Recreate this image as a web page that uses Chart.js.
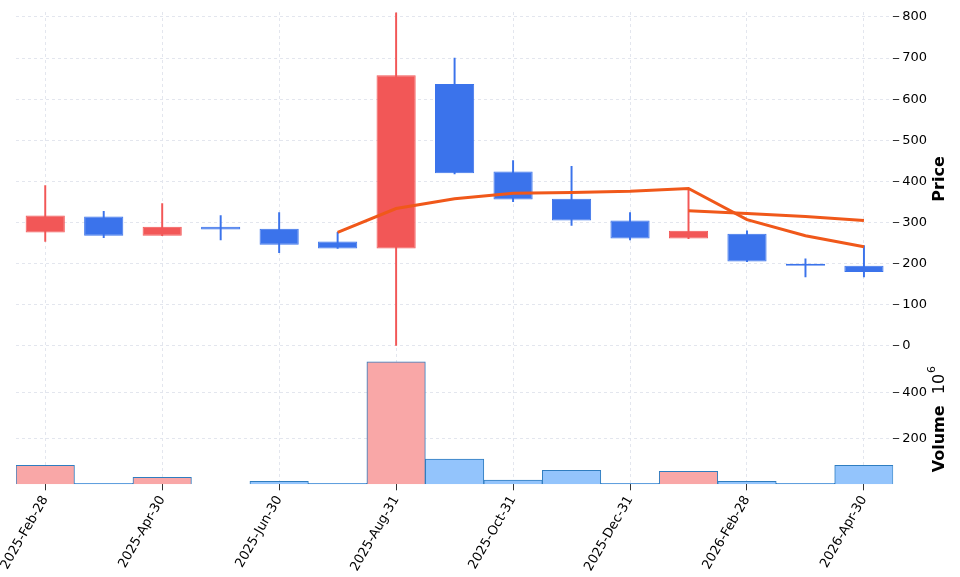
<!DOCTYPE html>
<html>
<head>
<meta charset="utf-8">
<script src="https://cdn.jsdelivr.net/npm/chart.js@4"></script>
<style>
  html, body { margin: 0; padding: 0; background: #fff; }
  #wrap { width: 960px; height: 577px; }
</style>
</head>
<body>
<div id="wrap"><canvas id="c"></canvas></div>
<script>
// --- data ---
const labels = ['2025-Feb-28', '2025-Mar-31', '2025-Apr-30', '2025-May-31', '2025-Jun-30',
  '2025-Jul-31', '2025-Aug-31', '2025-Sep-30', '2025-Oct-31', '2025-Nov-30',
  '2025-Dec-31', '2026-Jan-31', '2026-Feb-28', '2026-Mar-31', '2026-Apr-30'];
const opens  = [317, 268, 290, 283, 246, 237, 658, 420, 356, 305, 261, 280, 205, 195, 180];
const closes = [276, 315, 268, 290, 285, 254, 237, 637, 424, 358, 305, 261, 273, 196, 195];
const highs  = [390, 327, 346, 317, 324, 276, 810, 700, 451, 437, 324, 383, 280, 212, 244];
const lows   = [254, 263, 268, 258, 227, 237, 0, 418, 351, 293, 258, 261, 205, 168, 168];
const volumes = [83, 4, 30, 0, 13, 4, 535, 110, 18, 61, 4, 57, 13, 4, 83];
const maShort = [null, null, null, null, null, 276, 334, 358, 371, 373, 376, 383, 307, 268, 241];
const maLong  = [null, null, null, null, null, null, null, null, null, null, null, 329, 322, 315, 305];
const priceTicks = [0, 100, 200, 300, 400, 500, 600, 700, 800];
const volumeTicks = [200, 400];

const UP = '#3b73eb', DOWN = '#f25757';
const isUp = opens.map((o, i) => closes[i] >= o);

// axis titles read bottom-to-top, like matplotlib
const sideTitles = {
  id: 'sideTitles',
  afterDraw(chart) {
    const c = chart.ctx;
    const py = chart.scales.y, vy = chart.scales.yv;
    c.save();
    c.fillStyle = '#000';
    c.textAlign = 'center';
    c.textBaseline = 'middle';
    c.font = 'bold 16px "DejaVu Sans"';
    c.translate(940, (py.top + py.bottom) / 2);
    c.rotate(-Math.PI / 2);
    c.fillText('Price', 0, 0);
    c.restore();
    c.save();
    c.fillStyle = '#000';
    c.textBaseline = 'middle';
    c.translate(940, vy.bottom - 12);
    c.rotate(-Math.PI / 2);
    c.font = 'bold 16px "DejaVu Sans"';
    c.textAlign = 'left';
    c.fillText('Volume', 0, 0);
    const w = c.measureText('Volume  ').width;
    c.font = '16px "DejaVu Sans"';
    c.fillText('10', w, 0);
    const w2 = c.measureText('10').width;
    c.font = '11px "DejaVu Sans"';
    c.fillText('6', w + w2 + 1, -8);
    c.restore();
  },
};

const ctx = document.getElementById('c').getContext('2d');
new Chart(ctx, {
  data: {
    labels: labels,
    datasets: [
      {
        type: 'line', data: maShort, borderColor: '#f0581a', borderWidth: 3,
        pointRadius: 0, yAxisID: 'y', order: 0,
      },
      {
        type: 'line', data: maLong, borderColor: '#f0581a', borderWidth: 3,
        pointRadius: 0, yAxisID: 'y', order: 0,
      },
      {
        type: 'bar', data: opens.map((o, i) => [o, closes[i]]),
        backgroundColor: isUp.map(u => u ? UP : DOWN),
        borderColor: isUp.map(u => u ? UP : DOWN), borderWidth: 1,
        borderSkipped: false, minBarLength: 2,
        barPercentage: 0.67, categoryPercentage: 1, grouped: false,
        yAxisID: 'y', order: 1,
      },
      {
        type: 'bar', data: lows.map((l, i) => [l, highs[i]]),
        backgroundColor: isUp.map(u => u ? UP : DOWN),
        barThickness: 1.3, grouped: false, yAxisID: 'y', order: 2,
      },
      {
        type: 'bar', data: volumes,
        backgroundColor: isUp.map(u => u ? '#93c4fc' : '#f9a7a7'),
        borderColor: '#2f7dc0', borderWidth: 1,
        barPercentage: 1, categoryPercentage: 1, grouped: false,
        yAxisID: 'yv', order: 3,
      },
    ],
  },
  plugins: [sideTitles],
  options: {
    responsive: true,
    maintainAspectRatio: false,
    animation: false,
    layout: { padding: { left: 16, right: 30, top: 12, bottom: 0 } },
    plugins: { legend: { display: false }, tooltip: { enabled: false } },
    scales: {
      x: {
        offset: true,
        afterFit: s => { s.paddingLeft = 0; },
        border: { display: false, dash: [3, 3] },
        grid: {
          offset: false,
          color: c => (c.index % 2 === 0 ? '#e3e6ee' : 'transparent'),
          tickColor: c => (c.index % 2 === 0 ? '#333' : 'transparent'),
          tickLength: 6,
        },
        ticks: {
          autoSkip: false, maxRotation: 60, minRotation: 60,
          color: '#000', font: { family: 'DejaVu Sans', size: 13 },
          callback: (v, i) => (i % 2 === 0 ? labels[i] : ''),
        },
      },
      y: {
        position: 'right', stack: 'panels', stackWeight: 333,
        min: 0, max: 812,
        border: { display: false, dash: [3, 3] },
        grid: { color: '#e3e6ee', tickColor: '#333', tickLength: 6 },
        afterBuildTicks: s => { s.ticks = priceTicks.map(v => ({ value: v })); },
        ticks: { color: '#000', font: { family: 'DejaVu Sans', size: 13 } },
      },
      yv: {
        position: 'right', stack: 'panels', stackWeight: 138, offset: false,
        min: 0, max: 605,
        border: { display: false, dash: [3, 3] },
        grid: { color: '#e3e6ee', tickColor: '#333', tickLength: 6 },
        afterBuildTicks: s => { s.ticks = volumeTicks.map(v => ({ value: v })); },
        ticks: { color: '#000', font: { family: 'DejaVu Sans', size: 13 } },
      },
    },
  },
});
</script>
</body>
</html>
